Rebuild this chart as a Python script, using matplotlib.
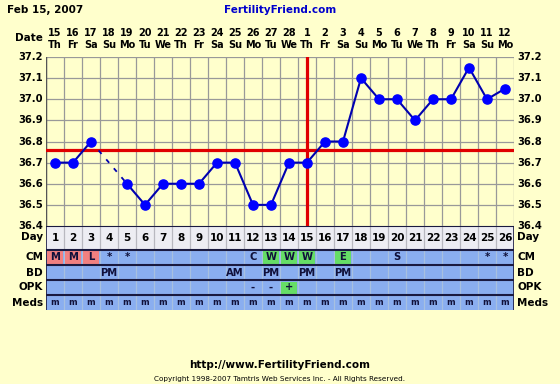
import matplotlib
matplotlib.use("Agg")
import matplotlib.pyplot as plt
from matplotlib.patches import Rectangle
import numpy as np

# chart data
days = list(range(1, 27))
dates = ["15","16","17","18","19","20","21","22","23","24","25","26","27","28",
         "1","2","3","4","5","6","7","8","9","10","11","12"]
weekdays = ["Th","Fr","Sa","Su","Mo","Tu","We","Th","Fr","Sa","Su","Mo","Tu","We",
            "Th","Fr","Sa","Su","Mo","Tu","We","Th","Fr","Sa","Su","Mo"]
temps = [36.7, 36.7, 36.8, None, 36.6, 36.5, 36.6, 36.6, 36.6, 36.7, 36.7, 36.5, 36.5,
         36.7, 36.7, 36.8, 36.8, 37.1, 37.0, 37.0, 36.9, 37.0, 37.0, 37.15, 37.0, 37.05]
coverline = 36.76
ovulation_day = 15
yticks = [36.4, 36.5, 36.6, 36.7, 36.8, 36.9, 37.0, 37.1, 37.2]

cm = {1: "M", 2: "M", 3: "L", 4: "*", 5: "*", 12: "C", 13: "W", 14: "W", 15: "W",
      17: "E", 20: "S", 25: "*", 26: "*"}
cm_red = [1, 2, 3]
cm_green = [13, 14, 15, 17]
bd = {4: "PM", 11: "AM", 13: "PM", 15: "PM", 17: "PM"}
opk = {12: "-", 13: "-", 14: "+"}
opk_green = [14]
meds = {d: "m" for d in days}

W, H = 560, 384
BG = "#FFFFCC"
BLUE = "#8AAEF0"
FONT = "DejaVu Sans"

fig = plt.figure(figsize=(W / 100, H / 100), dpi=100)
fig.patch.set_facecolor(BG)

def fx(px):
    return px / W

def fy(py):
    return 1 - py / H

L, R, T, B = 46, 514, 57, 226
ax = fig.add_axes([fx(L), fy(B), fx(R - L), (B - T) / H])
ax.set_facecolor(BG)
ax.set_xlim(0.5, 26.5)
ax.set_ylim(36.4, 37.2)
for s in ax.spines.values():
    s.set_visible(False)
ax.set_xticks([])
ax.set_yticks([])

# grid
for yv in yticks:
    ax.axhline(yv, color="#999999", lw=0.9, zorder=1)
for i in range(27):
    ax.axvline(i + 0.5, color="#999999", lw=0.9, zorder=1)
ax.axvline(0.5, color="#555555", lw=1, zorder=1)

# temperature line
x = np.array(days, dtype=float)
y = np.array([np.nan if t is None else t for t in temps])
ax.plot(x, y, color="#0000B0", lw=1.5, zorder=3)
# dashed bridge over missing days
for i in range(1, len(temps) - 1):
    if temps[i] is None:
        j = i - 1
        k = i + 1
        while k < len(temps) and temps[k] is None:
            k += 1
        ax.plot([days[j], days[k]], [temps[j], temps[k]], color="#0000B0",
                lw=1.3, ls=(0, (2.5, 4)), zorder=3)
ax.plot(x, y, "o", color="#0000FF", ms=6.6, zorder=4)

ax.axhline(coverline, color="#E00000", lw=2.3, zorder=2)
ax.axvline(ovulation_day, color="#E00000", lw=2.3, zorder=2)

# y labels both sides
for yv in yticks:
    py = T + (37.2 - yv) / 0.8 * (B - T)
    fig.text(fx(43), fy(py), f"{yv:.1f}", ha="right", va="center",
             fontsize=7.2, fontweight="bold", family=FONT)
    fig.text(fx(517), fy(py), f"{yv:.1f}", ha="left", va="center",
             fontsize=7.2, fontweight="bold", family=FONT)

# header
fig.text(fx(7), fy(10), "Feb 15, 2007", ha="left", va="center",
         fontsize=7.5, fontweight="bold", family=FONT)
fig.text(fx(280), fy(10), "FertilityFriend.com", ha="center", va="center",
         fontsize=7.5, fontweight="bold", family=FONT, color="#0000CC")
fig.text(fx(43), fy(38), "Date", ha="right", va="center",
         fontsize=7.5, fontweight="bold", family=FONT)
colw = (R - L) / 26
for i, d in enumerate(days):
    cx = L + (d - 0.5) * colw
    fig.text(fx(cx), fy(32.5), dates[i], ha="center", va="center",
             fontsize=7, fontweight="bold", family=FONT)
    fig.text(fx(cx), fy(45), weekdays[i], ha="center", va="center",
             fontsize=7, fontweight="bold", family=FONT)

# table below the chart
TT, TB = 226, 310
tax = fig.add_axes([fx(L), fy(TB), fx(R - L), (TB - TT) / H])
tax.set_xlim(0.5, 26.5)
tax.set_ylim(TB - TT, 0)
tax.axis("off")

rows = [("Day", 0, 23), ("CM", 24, 38.5), ("BD", 39.5, 53.5),
        ("OPK", 54.5, 68.5), ("Meds", 69.5, 84)]

for name, y0, y1 in rows:
    fc = "#EDEDF3" if name == "Day" else BLUE
    tax.add_patch(Rectangle((0.5, y0), 26, y1 - y0, fc=fc, ec="none", zorder=1))
    sep = "#B8B8C0" if name == "Day" else "#A8C0E0"
    for i in range(1, 26):
        tax.plot([i + 0.5, i + 0.5], [y0, y1], color=sep, lw=0.9, zorder=2)
    cy = (y0 + y1) / 2
    fig.text(fx(43), fy(TT + cy), name, ha="right", va="center",
             fontsize=7.5, fontweight="bold", family=FONT)
    fig.text(fx(517), fy(TT + cy), name, ha="left", va="center",
             fontsize=7.5, fontweight="bold", family=FONT)

# dark row dividers
for yy in [23.5, 39, 54, 69]:
    tax.plot([0.5, 26.5], [yy, yy], color="#1A1A40", lw=1.5, zorder=3)
tax.plot([0.5, 26.5], [0, 0], color="#1A1A40", lw=1.5, zorder=3)
tax.plot([0.5, 26.5], [84.5, 84.5], color="#1A1A40", lw=1.2, zorder=3)
tax.plot([0.5, 0.5], [0, 84.5], color="#1A1A40", lw=1.2, zorder=3)
tax.plot([26.5, 26.5], [0, 84.5], color="#1A1A40", lw=1.2, zorder=3)

def cell(d, y0, y1, color):
    tax.add_patch(Rectangle((d - 0.45, y0 + 1), 0.9, y1 - y0 - 2, fc=color,
                            ec="none", zorder=2.5))

for d in cm_red:
    cell(d, 24, 38.5, "#F08080")
for d in cm_green:
    cell(d, 24, 38.5, "#66DD66")
for d in opk_green:
    cell(d, 54.5, 68.5, "#66DD66")

for d in days:
    tax.text(d, 11.8, str(d), ha="center", va="center", fontsize=7.5,
             fontweight="bold", family=FONT, zorder=4)

def row_text(data, y0, y1, size=7.2):
    for d, t in data.items():
        tax.text(d, (y0 + y1) / 2, t, ha="center", va="center", fontsize=size,
                 fontweight="bold", family=FONT, color="#10103A", zorder=4)

row_text(cm, 24, 38.5)
row_text(bd, 39.5, 53.5)
row_text(opk, 54.5, 68.5)
row_text(meds, 69.5, 84, size=6)

# footer
fig.text(fx(280), fy(365), "http://www.FertilityFriend.com", ha="center", va="center",
         fontsize=7.5, fontweight="bold", family=FONT)
fig.text(fx(280), fy(379), "Copyright 1998-2007 Tamtris Web Services Inc. - All Rights Reserved.",
         ha="center", va="center", fontsize=5.2, family=FONT)

fig.savefig("out.png", dpi=100, facecolor=BG)
